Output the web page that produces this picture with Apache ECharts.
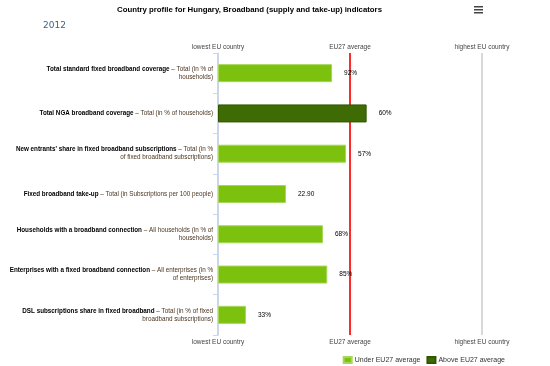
<!DOCTYPE html>
<html>
<head>
<meta charset="utf-8">
<script src="https://cdn.jsdelivr.net/npm/echarts@6/dist/echarts.min.js"></script>
<style>html,body{margin:0;padding:0;background:#fff}#c{width:550px;height:366px}</style>
</head>
<body>
<div id="c"></div>
<script>
// Indicator names (bold part) and their breakdown/unit part
var indicatorNames = [
  'Total standard fixed broadband coverage',
  'Total NGA broadband coverage',
  "New entrants' share in fixed broadband subscriptions",
  'Fixed broadband take-up',
  'Households with a broadband connection',
  'Enterprises with a fixed broadband connection',
  'DSL subscriptions share in fixed broadband'
];
var indicatorUnitsLine1 = [
  'Total (in % of',
  'Total (in % of households)',
  'Total (in %',
  'Total (in Subscriptions per 100 people)',
  'All households (in % of',
  'All enterprises (in %',
  'Total (in % of fixed'
];
var indicatorUnitsLine2 = [
  'households)',
  '',
  'of fixed broadband subscriptions)',
  '',
  'households)',
  'of enterprises)',
  'broadband subscriptions)'
];
// Position on the scale: 0 = lowest EU country, 1 = EU27 average, 2 = highest EU country
var scaledValues = [0.864, 1.126, 0.97, 0.515, 0.795, 0.828, 0.212];
var valueLabels = ['92%', '60%', '57%', '22.90', '68%', '85%', '33%'];
var aboveAverage = [false, true, false, false, false, false, false];
var scaleTicks = ['lowest EU country', 'EU27 average', 'highest EU country'];
var yearLabel = '2012';

var categories = indicatorNames.map(function (n, i) {
  var s = '{b|' + n + '}{n| – ' + indicatorUnitsLine1[i] + '}';
  if (indicatorUnitsLine2[i]) s += '\n{n|' + indicatorUnitsLine2[i] + '}';
  return s;
});
var underData = scaledValues.map(function (v, i) { return aboveAverage[i] ? '-' : v; });
var aboveData = scaledValues.map(function (v, i) { return aboveAverage[i] ? v : '-'; });

var FONT = 'Liberation Sans, Arial, sans-serif';
var chart = echarts.init(document.getElementById('c'), null, {renderer: 'canvas'});
var labelCfg = {
  show: true, position: 'right', distance: 12,
  fontSize: 6.5, fontFamily: FONT, color: '#000',
  formatter: function (p) { return valueLabels[p.dataIndex]; }
};
chart.setOption({
  animation: false,
  title: {
    text: 'Country profile for Hungary, Broadband (supply and take-up) indicators',
    left: 112, top: 1,
    textStyle: {fontSize: 7.8, fontWeight: 'bold', color: '#000', fontFamily: FONT}
  },
  graphic: [
    {type: 'text', left: 43, top: 21, style: {text: yearLabel, fontSize: 9, fill: '#3f5f8a', fontFamily: 'DejaVu Sans, sans-serif'}},
    {type: 'rect', left: 474, top: 6, shape: {width: 9, height: 1.5}, style: {fill: '#444'}},
    {type: 'rect', left: 474, top: 9, shape: {width: 9, height: 1.5}, style: {fill: '#444'}},
    {type: 'rect', left: 474, top: 12, shape: {width: 9, height: 1.5}, style: {fill: '#444'}}
  ],
  legend: {
    right: 40, top: 351, itemWidth: 8, itemHeight: 6, itemGap: 6,
    icon: 'rect',
    textStyle: {fontSize: 7, fontFamily: FONT, color: '#333', padding: [0, 0, 0, -2]},
    data: ['Under EU27 average', 'Above EU27 average']
  },
  grid: {left: 218, right: 68, top: 53, bottom: 31},
  xAxis: [{
    type: 'value', min: 0, max: 2, interval: 1, position: 'top',
    axisLine: {show: false}, axisTick: {show: false},
    axisLabel: {fontSize: 6.5, fontFamily: FONT, color: '#444', margin: 2,
      formatter: function (v) { return scaleTicks[v]; }},
    splitLine: {show: true, lineStyle: {color: ['#ccd6eb', '#ff2a2a', '#d8d8d8'], width: 2}}
  }, {
    type: 'value', min: 0, max: 2, interval: 1, position: 'bottom',
    axisLine: {show: false}, axisTick: {show: false},
    axisLabel: {fontSize: 6.5, fontFamily: FONT, color: '#444', margin: 4,
      formatter: function (v) { return scaleTicks[v]; }},
    splitLine: {show: false}
  }],
  yAxis: {
    type: 'category', inverse: true, data: categories,
    axisLine: {show: true, lineStyle: {color: '#ccd6eb', width: 1}},
    axisTick: {show: true, length: 5, lineStyle: {color: '#ccd6eb'}},
    axisLabel: {
      margin: 5, align: 'right', lineHeight: 8,
      rich: {
        b: {fontSize: 6.3, fontWeight: 'bold', color: '#000', fontFamily: FONT, lineHeight: 8},
        n: {fontSize: 6.3, color: '#4a3520', fontFamily: FONT, lineHeight: 8, align: 'right'}
      }
    }
  },
  series: [{
    name: 'Under EU27 average', type: 'bar', data: underData, barWidth: 18, barGap: '-100%',
    itemStyle: {color: '#7dc10f', borderColor: '#a6d65a', borderWidth: 1},
    label: labelCfg
  }, {
    name: 'Above EU27 average', type: 'bar', data: aboveData, barWidth: 18, barGap: '-100%',
    itemStyle: {color: '#3f6b05', borderColor: '#2f5600', borderWidth: 1},
    label: labelCfg
  }]
});
</script>
</body>
</html>
